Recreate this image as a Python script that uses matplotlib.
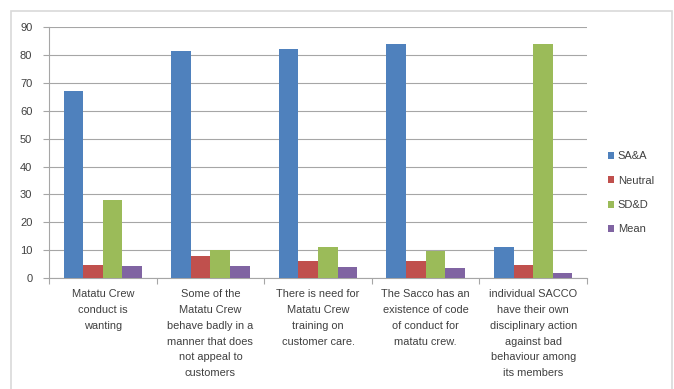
import matplotlib.pyplot as plt
import numpy as np
from matplotlib.patches import Rectangle

# Chart data
categories = [
    "Matatu Crew\nconduct is\nwanting",
    "Some of the\nMatatu Crew\nbehave badly in a\nmanner that does\nnot appeal to\ncustomers",
    "There is need for\nMatatu Crew\ntraining on\ncustomer care.",
    "The Sacco has an\nexistence of code\nof conduct for\nmatatu crew.",
    "individual SACCO\nhave their own\ndisciplinary action\nagainst bad\nbehaviour among\nits members",
]
series_names = ["SA&A", "Neutral", "SD&D", "Mean"]
sa_a = [67, 81.5, 82.2, 84, 11.2]
neutral = [4.6, 8, 6, 6.1, 4.8]
sd_d = [28, 10.2, 11.2, 9.8, 84]
mean = [4.3, 4.3, 4.0, 3.8, 1.9]
colors = ["#4F81BD", "#C0504D", "#9BBB59", "#8064A2"]

plt.rcParams['font.family'] = ['Liberation Sans', 'DejaVu Sans']

fig = plt.figure(figsize=(6.74, 3.89), dpi=100)
ax = fig.add_axes([0.0727, 0.285, 0.7983, 0.6455])

# Outer chart border
fig.patches.append(Rectangle((11 / 674, -0.01), 661 / 674, 1 - 11 / 389 + 0.01,
                             transform=fig.transFigure, fill=False,
                             edgecolor="#D9D9D9", linewidth=1.2))

x = np.arange(len(categories))
width = 0.182
all_series = [sa_a, neutral, sd_d, mean]
for i, (vals, name, c) in enumerate(zip(all_series, series_names, colors)):
    ax.bar(x + (i - 1.5) * width, vals, width, color=c, label=name, zorder=3)

ax.set_xlim(-0.5, len(categories) - 0.5)
ax.set_ylim(0, 90)
ax.set_yticks(range(0, 91, 10))
ax.yaxis.grid(True, color="#A6A6A6", linewidth=0.8, zorder=0)

# Category labels between tick marks
ax.set_xticks(np.arange(len(categories) + 1) - 0.5)
ax.set_xticklabels([])
ax.tick_params(axis='x', length=4, color="#A6A6A6", direction='out')
for xi, lab in zip(x, categories):
    ax.text(xi, -4.0, lab, ha='center', va='top', fontsize=7.9,
            color="#404040", linespacing=1.72)

ax.tick_params(axis='y', length=4, color="#A6A6A6", labelsize=8,
               labelcolor="#404040", pad=8)
for s in ['top', 'right']:
    ax.spines[s].set_visible(False)
for s in ['left', 'bottom']:
    ax.spines[s].set_color("#A6A6A6")

ax.legend(loc='center left', bbox_to_anchor=(1.02, 0.34), frameon=False,
          fontsize=8, handlelength=0.6, handleheight=0.6, handletextpad=0.3,
          labelspacing=1.3, labelcolor="#404040")

fig.savefig("out.png", dpi=100)
